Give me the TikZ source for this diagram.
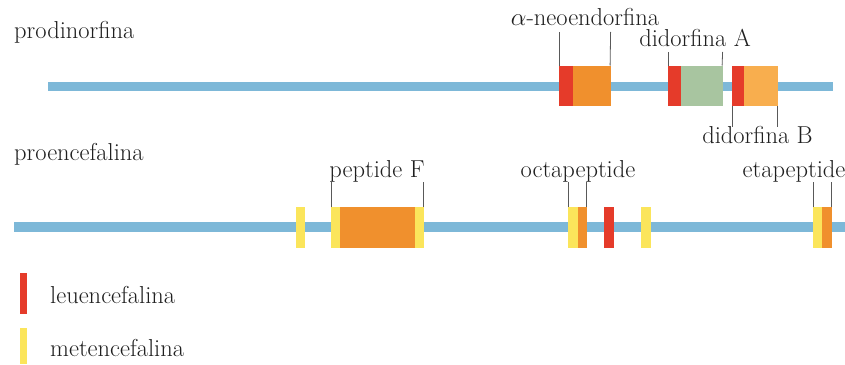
\documentclass[tikz,border=0pt]{standalone}
\begin{document}
\begin{tikzpicture}[x=1pt,y=-1pt,
  seg/.style={inner sep=0pt, outer sep=0pt, minimum height=40.5pt, anchor=north west},
  lbl/.style={inner sep=0pt, anchor=base, font=\fontsize{24.5}{28}\selectfont, text=black!88},
  leader/.style={draw=black!65, line width=0.8pt}]
\definecolor{cBlue}{HTML}{7DB8D8}
\definecolor{cRed}{HTML}{E53B2A}
\definecolor{cOrange}{HTML}{F0902D}
\definecolor{cLight}{HTML}{F8AE4E}
\definecolor{cGreen}{HTML}{A8C5A0}
\definecolor{cYellow}{HTML}{FBE55B}
\useasboundingbox (0,0) rectangle (845,364);
% chains
\fill[cBlue] (48,81.5) rectangle (833,90.5);
\fill[cBlue] (14,222) rectangle (845,232);
% titles
\node[lbl, anchor=base west] (tA) at (14,38) {prodinorfina};
\node[lbl, anchor=base west] (tB) at (14,160) {proencefalina};
% prodinorfina segments
\node[seg, fill=cRed, minimum width=13.5pt] (n1) at (559,65.5) {};
\node[seg, fill=cOrange, minimum width=38pt] (n2) at (572.5,65.5) {};
\node[seg, fill=cRed, minimum width=13.5pt] (a1) at (667.5,65.5) {};
\node[seg, fill=cGreen, minimum width=41.5pt] (a2) at (681,65.5) {};
\node[seg, fill=cRed, minimum width=12.5pt] (b1) at (731.5,65.5) {};
\node[seg, fill=cLight, minimum width=34pt] (b2) at (744,65.5) {};
% labels top
\node[lbl] (ln) at (585,25) {$\alpha$-neoendorfina};
\node[lbl] (la) at (695,46.5) {didorfina A};
\node[lbl] (lb) at (757.5,143) {didorfina B};
\coordinate (ln1) at (559.4,32);
\coordinate (ln2) at (610.6,32);
\coordinate (la1) at (667.9,52);
\coordinate (la2) at (722.6,52);
\coordinate (lb1) at (731.9,127);
\coordinate (lb2) at (777.6,127);
\draw[leader] (n1.north west) ++(0.4,0) -- (ln1);
\draw[leader] (n2.north east) ++(-0.4,0) -- (ln2);
\draw[leader] (a1.north west) ++(0.4,0) -- (la1);
\draw[leader] (a2.north east) ++(-0.4,0) -- (la2);
\draw[leader] (b1.south west) ++(0.4,0) -- (lb1);
\draw[leader] (b2.south east) ++(-0.4,0) -- (lb2);
% proencefalina segments
\node[seg, fill=cYellow, minimum width=9pt] (y1) at (296,207) {};
\node[seg, fill=cYellow, minimum width=9.5pt] (f1) at (330.5,207) {};
\node[seg, fill=cOrange, minimum width=75pt] (f2) at (340,207) {};
\node[seg, fill=cYellow, minimum width=9pt] (f3) at (415,207) {};
\node[seg, fill=cYellow, minimum width=10pt] (o1) at (568,207) {};
\node[seg, fill=cOrange, minimum width=9pt] (o2) at (578,207) {};
\node[seg, fill=cRed, minimum width=10pt] (r1) at (604,207) {};
\node[seg, fill=cYellow, minimum width=10pt] (y2) at (641,207) {};
\node[seg, fill=cYellow, minimum width=9pt] (e1) at (813,207) {};
\node[seg, fill=cOrange, minimum width=10pt] (e2) at (822,207) {};
% labels bottom
\node[lbl] (lf) at (377,177) {peptide F};
\node[lbl] (lo) at (578,177) {octapeptide};
\node[lbl] (le) at (794,177) {etapeptide};
\coordinate (lf1) at (330.9,182);
\coordinate (lf2) at (423.6,182);
\coordinate (lo1) at (568.4,182);
\coordinate (lo2) at (586.6,182);
\coordinate (le1) at (813.4,182);
\coordinate (le2) at (831.6,182);
\draw[leader] (f1.north west) ++(0.4,0) -- (lf1);
\draw[leader] (f3.north east) ++(-0.4,0) -- (lf2);
\draw[leader] (o1.north west) ++(0.4,0) -- (lo1);
\draw[leader] (o2.north east) ++(-0.4,0) -- (lo2);
\draw[leader] (e1.north west) ++(0.4,0) -- (le1);
\draw[leader] (e2.north east) ++(-0.4,0) -- (le2);
% legend
\node[inner sep=0pt, outer sep=0pt, anchor=north west, fill=cRed, minimum width=7pt, minimum height=40.5pt] (kR) at (20,273) {};
\node[inner sep=0pt, outer sep=0pt, anchor=north west, fill=cYellow, minimum width=7pt, minimum height=36pt] (kY) at (20,328) {};
\node[lbl, anchor=base west] (kRt) at (50,303) {leuencefalina};
\node[lbl, anchor=base west] (kYt) at (50,356) {metencefalina};
\end{tikzpicture}
\end{document}
